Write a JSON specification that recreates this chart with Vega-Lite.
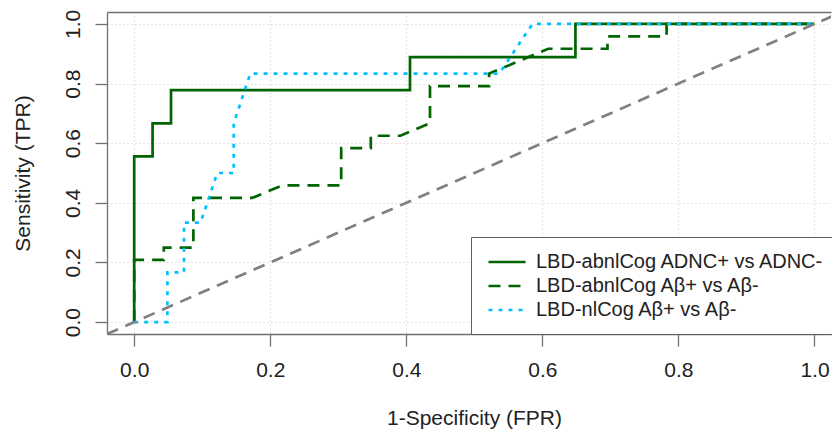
{
  "$schema": "https://vega.github.io/schema/vega-lite/v6.json",
  "width": 724,
  "height": 322,
  "autosize": {"type": "none"},
  "padding": {"left": 107, "top": 12, "right": 1, "bottom": 100},
  "background": "white",
  "config": {"font": "Liberation Sans", "view": {"stroke": null}},
  "datasets": {
    "roc": [
      {"series": "LBD-abnlCog ADNC+ vs ADNC-", "i": 0, "fpr": 0, "tpr": 0},
      {"series": "LBD-abnlCog ADNC+ vs ADNC-", "i": 1, "fpr": 0, "tpr": 0.5556},
      {"series": "LBD-abnlCog ADNC+ vs ADNC-", "i": 2, "fpr": 0.027, "tpr": 0.5556},
      {"series": "LBD-abnlCog ADNC+ vs ADNC-", "i": 3, "fpr": 0.027, "tpr": 0.6667},
      {"series": "LBD-abnlCog ADNC+ vs ADNC-", "i": 4, "fpr": 0.0541, "tpr": 0.6667},
      {"series": "LBD-abnlCog ADNC+ vs ADNC-", "i": 5, "fpr": 0.0541, "tpr": 0.7778},
      {"series": "LBD-abnlCog ADNC+ vs ADNC-", "i": 6, "fpr": 0.4054, "tpr": 0.7778},
      {"series": "LBD-abnlCog ADNC+ vs ADNC-", "i": 7, "fpr": 0.4054, "tpr": 0.8889},
      {"series": "LBD-abnlCog ADNC+ vs ADNC-", "i": 8, "fpr": 0.6486, "tpr": 0.8889},
      {"series": "LBD-abnlCog ADNC+ vs ADNC-", "i": 9, "fpr": 0.6486, "tpr": 1},
      {"series": "LBD-abnlCog ADNC+ vs ADNC-", "i": 10, "fpr": 1, "tpr": 1},
      {"series": "LBD-abnlCog Aβ+ vs Aβ-", "i": 0, "fpr": 0, "tpr": 0},
      {"series": "LBD-abnlCog Aβ+ vs Aβ-", "i": 1, "fpr": 0, "tpr": 0.2083},
      {"series": "LBD-abnlCog Aβ+ vs Aβ-", "i": 2, "fpr": 0.0435, "tpr": 0.2083},
      {"series": "LBD-abnlCog Aβ+ vs Aβ-", "i": 3, "fpr": 0.0435, "tpr": 0.25},
      {"series": "LBD-abnlCog Aβ+ vs Aβ-", "i": 4, "fpr": 0.087, "tpr": 0.25},
      {"series": "LBD-abnlCog Aβ+ vs Aβ-", "i": 5, "fpr": 0.087, "tpr": 0.4167},
      {"series": "LBD-abnlCog Aβ+ vs Aβ-", "i": 6, "fpr": 0.1739, "tpr": 0.4167},
      {"series": "LBD-abnlCog Aβ+ vs Aβ-", "i": 7, "fpr": 0.2174, "tpr": 0.4583},
      {"series": "LBD-abnlCog Aβ+ vs Aβ-", "i": 8, "fpr": 0.3043, "tpr": 0.4583},
      {"series": "LBD-abnlCog Aβ+ vs Aβ-", "i": 9, "fpr": 0.3043, "tpr": 0.5833},
      {"series": "LBD-abnlCog Aβ+ vs Aβ-", "i": 10, "fpr": 0.3478, "tpr": 0.5833},
      {"series": "LBD-abnlCog Aβ+ vs Aβ-", "i": 11, "fpr": 0.3478, "tpr": 0.625},
      {"series": "LBD-abnlCog Aβ+ vs Aβ-", "i": 12, "fpr": 0.3913, "tpr": 0.625},
      {"series": "LBD-abnlCog Aβ+ vs Aβ-", "i": 13, "fpr": 0.4348, "tpr": 0.6667},
      {"series": "LBD-abnlCog Aβ+ vs Aβ-", "i": 14, "fpr": 0.4348, "tpr": 0.7917},
      {"series": "LBD-abnlCog Aβ+ vs Aβ-", "i": 15, "fpr": 0.5217, "tpr": 0.7917},
      {"series": "LBD-abnlCog Aβ+ vs Aβ-", "i": 16, "fpr": 0.5217, "tpr": 0.8333},
      {"series": "LBD-abnlCog Aβ+ vs Aβ-", "i": 17, "fpr": 0.6087, "tpr": 0.9167},
      {"series": "LBD-abnlCog Aβ+ vs Aβ-", "i": 18, "fpr": 0.6957, "tpr": 0.9167},
      {"series": "LBD-abnlCog Aβ+ vs Aβ-", "i": 19, "fpr": 0.6957, "tpr": 0.9583},
      {"series": "LBD-abnlCog Aβ+ vs Aβ-", "i": 20, "fpr": 0.7826, "tpr": 0.9583},
      {"series": "LBD-abnlCog Aβ+ vs Aβ-", "i": 21, "fpr": 0.7826, "tpr": 1},
      {"series": "LBD-abnlCog Aβ+ vs Aβ-", "i": 22, "fpr": 1, "tpr": 1},
      {"series": "LBD-nlCog Aβ+ vs Aβ-", "i": 0, "fpr": 0, "tpr": 0},
      {"series": "LBD-nlCog Aβ+ vs Aβ-", "i": 1, "fpr": 0.0488, "tpr": 0},
      {"series": "LBD-nlCog Aβ+ vs Aβ-", "i": 2, "fpr": 0.0488, "tpr": 0.1667},
      {"series": "LBD-nlCog Aβ+ vs Aβ-", "i": 3, "fpr": 0.0732, "tpr": 0.1667},
      {"series": "LBD-nlCog Aβ+ vs Aβ-", "i": 4, "fpr": 0.0732, "tpr": 0.3333},
      {"series": "LBD-nlCog Aβ+ vs Aβ-", "i": 5, "fpr": 0.0976, "tpr": 0.3333},
      {"series": "LBD-nlCog Aβ+ vs Aβ-", "i": 6, "fpr": 0.122, "tpr": 0.5},
      {"series": "LBD-nlCog Aβ+ vs Aβ-", "i": 7, "fpr": 0.1463, "tpr": 0.5},
      {"series": "LBD-nlCog Aβ+ vs Aβ-", "i": 8, "fpr": 0.1463, "tpr": 0.6667},
      {"series": "LBD-nlCog Aβ+ vs Aβ-", "i": 9, "fpr": 0.1707, "tpr": 0.8333},
      {"series": "LBD-nlCog Aβ+ vs Aβ-", "i": 10, "fpr": 0.5366, "tpr": 0.8333},
      {"series": "LBD-nlCog Aβ+ vs Aβ-", "i": 11, "fpr": 0.5854, "tpr": 1},
      {"series": "LBD-nlCog Aβ+ vs Aβ-", "i": 12, "fpr": 1, "tpr": 1}
    ],
    "diag": [
      {"fpr": -0.04, "tpr": -0.04},
      {"fpr": 1.04, "tpr": 1.04}
    ]
  },
  "resolve": {"axis": {"x": "independent", "y": "independent"}},
  "layer": [
    {
      "data": {"name": "roc"},
      "mark": {"type": "line", "strokeWidth": 2.7, "strokeCap": "butt", "clip": true},
      "encoding": {
        "x": {
          "field": "fpr", "type": "quantitative",
          "scale": {"domain": [-0.04, 1.0243], "nice": false, "zero": false},
          "axis": {
            "values": [0, 0.2, 0.4, 0.6, 0.8, 1], "format": ".1f",
            "grid": true, "gridColor": "#c4c4c4", "gridDash": [1, 3], "gridWidth": 1,
            "domainColor": "#707070", "domainWidth": 1.3,
            "tickColor": "#707070", "tickSize": 12, "tickWidth": 1.3,
            "labelFontSize": 21, "labelColor": "#222222", "labelPadding": 13, "labelFlush": false,
            "title": "1-Specificity (FPR)", "titleFontSize": 21, "titleFontWeight": "normal",
            "titleColor": "#222222", "titleX": 367, "titleY": 84, "titleBaseline": "middle"
          }
        },
        "y": {
          "field": "tpr", "type": "quantitative",
          "scale": {"domain": [-0.04, 1.04], "nice": false, "zero": false},
          "axis": {
            "values": [0, 0.2, 0.4, 0.6, 0.8, 1], "format": ".1f",
            "grid": true, "gridColor": "#c4c4c4", "gridDash": [1, 3], "gridWidth": 1,
            "domainColor": "#707070", "domainWidth": 1.3,
            "tickColor": "#707070", "tickSize": 12, "tickWidth": 1.3,
            "labelFontSize": 21, "labelColor": "#222222", "labelPadding": 22,
            "labelAngle": -90, "labelAlign": "center", "labelBaseline": "middle", "labelFlush": false,
            "title": "Sensitivity (TPR)", "titleFontSize": 21, "titleFontWeight": "normal",
            "titleColor": "#222222", "titleX": -84, "titleY": 161, "titleBaseline": "middle", "titleAngle": -90, "titleAlign": "center"
          }
        },
        "color": {
          "field": "series", "type": "nominal",
          "scale": {
            "domain": ["LBD-abnlCog ADNC+ vs ADNC-", "LBD-abnlCog Aβ+ vs Aβ-", "LBD-nlCog Aβ+ vs Aβ-"],
            "range": ["#006400", "#006400", "#00BFFF"]
          },
          "legend": {
            "orient": "none", "legendX": 364, "legendY": 225, "title": null,
            "symbolType": "M-2,0H2", "symbolSize": 342, "symbolStrokeWidth": 2.7, "symbolFillColor": "transparent",
            "labelFontSize": 20, "labelColor": "#222222", "labelLimit": 0, "labelOffset": 18,
            "padding": 14, "symbolOffset": 11, "rowPadding": 3, "strokeColor": "#606060", "fillColor": "white"
          }
        },
        "strokeDash": {
          "field": "series", "type": "nominal",
          "scale": {
            "domain": ["LBD-abnlCog ADNC+ vs ADNC-", "LBD-abnlCog Aβ+ vs Aβ-", "LBD-nlCog Aβ+ vs Aβ-"],
            "range": [[1, 0], [12, 8], [4, 6]]
          },
          "legend": {
            "orient": "none", "legendX": 364, "legendY": 225, "title": null,
            "symbolType": "M-2,0H2", "symbolSize": 342, "symbolStrokeWidth": 2.7, "symbolFillColor": "transparent",
            "labelFontSize": 20, "labelColor": "#222222", "labelLimit": 0, "labelOffset": 18,
            "padding": 14, "symbolOffset": 11, "rowPadding": 3, "strokeColor": "#606060", "fillColor": "white"
          }
        },
        "order": {"field": "i", "type": "quantitative"}
      }
    },
    {
      "data": {"name": "diag"},
      "mark": {"type": "line", "color": "#808080", "strokeWidth": 2.7, "strokeDash": [12, 8], "strokeCap": "butt", "clip": true},
      "encoding": {
        "x": {
          "field": "fpr", "type": "quantitative",
          "scale": {"domain": [-0.04, 1.0243], "nice": false, "zero": false},
          "axis": {"orient": "top", "labels": false, "ticks": false, "grid": false, "domain": true,
                   "domainColor": "#707070", "domainWidth": 1.3, "title": null}
        },
        "y": {
          "field": "tpr", "type": "quantitative",
          "scale": {"domain": [-0.04, 1.04], "nice": false, "zero": false},
          "axis": null
        }
      }
    }
  ]
}
